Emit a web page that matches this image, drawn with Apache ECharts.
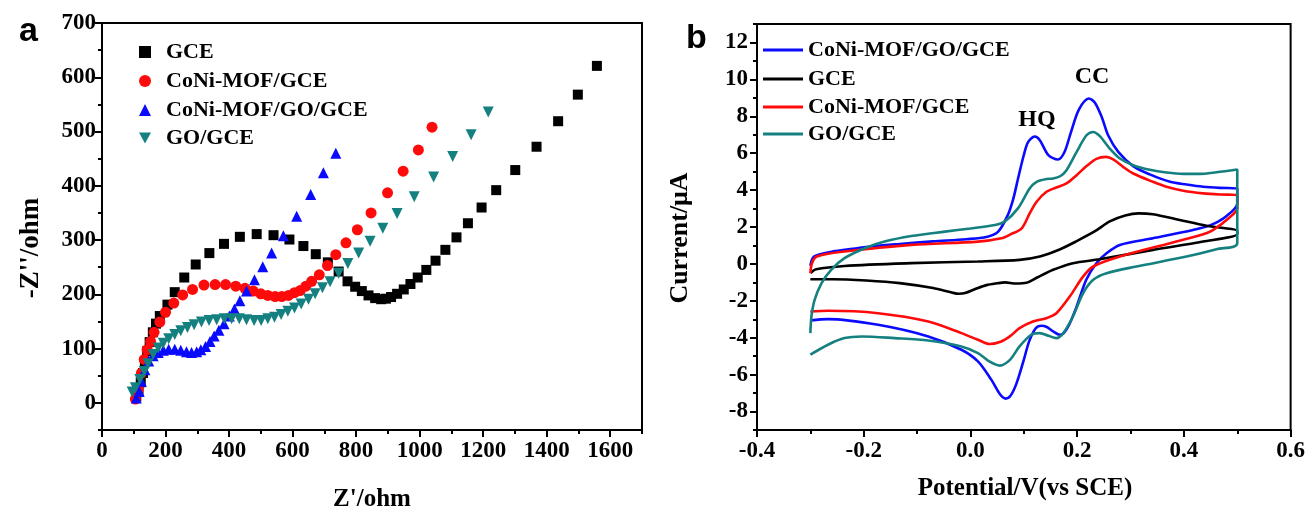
<!DOCTYPE html>
<html>
<head>
<meta charset="utf-8">
<script src="https://cdn.jsdelivr.net/npm/echarts@6/dist/echarts.min.js"></script>
<style>
html,body{margin:0;padding:0;background:#fff;}
#chart{width:1308px;height:515px;}
</style>
</head>
<body>
<div id="chart"></div>
<script>
// ---------- Panel a: Nyquist (EIS) data [Z', -Z''] ----------
const eisGCE = [[108,12],[115,22],[122,38],[129,55],[135,75],[142,95],[150,112],[160,130],[170,146],[182,160],[206,181],[229,204],[259,231],[295,255],[338,276],[384,293],[434,306],[487,311],[540,309],[590,301],[634,289],[673,274],[711,259],[745,242],[773,224],[797,214],[818,206],[839,198],[860,193],[879,191],[894,192],[910,195],[929,201],[950,209],[971,219],[994,231],[1021,245],[1050,262],[1081,282],[1116,305],[1152,331],[1195,360],[1241,392],[1301,429],[1368,472],[1436,519],[1498,568],[1558,621]];
const eisCoNiMOF = [[105,7],[114,25],[124,55],[133,80],[142,98],[153,113],[164,130],[182,149],[200,167],[226,184],[254,199],[285,209],[321,217],[356,218],[389,218],[421,215],[450,211],[476,206],[500,201],[522,198],[545,196],[566,196],[587,198],[606,203],[624,207],[642,215],[660,224],[684,236],[710,253],[736,273],[768,295],[804,319],[847,350],[899,387],[948,427],[996,466],[1039,508]];
const eisCoNiMOFGO = [[108,9],[117,21],[124,40],[135,61],[147,77],[161,87],[177,93],[193,97],[210,99],[229,99],[248,97],[266,94],[282,93],[298,94],[311,98],[326,104],[340,113],[353,123],[368,134],[384,146],[401,160],[417,173],[434,188],[455,206],[480,227],[506,251],[534,276],[571,308],[613,344],[657,384],[697,424],[736,460]];
const eisGO = [[95,20],[105,28],[119,43],[133,58],[145,72],[161,89],[177,101],[193,110],[210,118],[229,126],[248,133],[269,139],[290,144],[313,149],[337,152],[361,153],[385,155],[408,155],[432,155],[455,153],[479,152],[501,152],[522,155],[543,158],[564,163],[585,169],[606,175],[627,182],[650,191],[671,201],[694,212],[718,223],[745,239],[774,257],[808,276],[844,298],[884,322],[929,349],[983,380],[1044,416],[1104,454],[1162,494],[1216,536]];

// ---------- Panel b: cyclic voltammograms [E (V), I (uA)] ----------
const cvCoNiMOFGO = [[-0.300,-0.10],[-0.296,0.30],[-0.29,0.45],[-0.26,0.66],[-0.236,0.76],[-0.195,0.92],[-0.1325,1.08],[-0.07,1.22],[-0.0075,1.34],[0.03,1.46],[0.052,1.75],[0.07,2.65],[0.08,3.5],[0.089,4.6],[0.1,5.9],[0.108,6.6],[0.1205,6.9],[0.13,6.7],[0.146,5.9],[0.164,5.66],[0.176,6.05],[0.188,7.1],[0.203,8.35],[0.222,8.96],[0.233,8.75],[0.246,7.96],[0.258,6.97],[0.277,6.07],[0.305,5.3],[0.336,4.85],[0.374,4.45],[0.405,4.3],[0.436,4.18],[0.467,4.12],[0.5,4.09],
[0.5,3.28],[0.48,2.6],[0.45,2.1],[0.417,1.84],[0.342,1.39],[0.28,1.03],[0.255,0.58],[0.236,0.04],[0.217,-0.86],[0.199,-2.31],[0.185,-3.3],[0.175,-3.75],[0.167,-3.84],[0.155,-3.66],[0.143,-3.42],[0.133,-3.35],[0.122,-3.5],[0.11,-4.2],[0.099,-5.3],[0.086,-6.5],[0.075,-7.15],[0.066,-7.3],[0.055,-7.05],[0.039,-6.27],[0.014,-5.28],[-0.017,-4.65],[-0.079,-3.93],[-0.173,-3.3],[-0.267,-2.99],[-0.3,-3.06]];
const cvGCE = [[-0.3,-0.5],[-0.289,-0.29],[-0.236,-0.11],[-0.111,0.04],[0.014,0.13],[0.092,0.22],[0.13,0.40],[0.167,0.78],[0.2,1.25],[0.235,1.8],[0.261,2.3],[0.29,2.62],[0.315,2.74],[0.342,2.69],[0.392,2.38],[0.442,2.07],[0.5,1.78],
[0.5,1.62],[0.436,1.21],[0.342,0.76],[0.242,0.25],[0.192,0.04],[0.155,-0.32],[0.124,-0.75],[0.105,-1.02],[0.085,-1.06],[0.065,-1.0],[0.05,-1.05],[0.03,-1.15],[0.01,-1.35],[-0.01,-1.58],[-0.022,-1.62],[-0.035,-1.55],[-0.07,-1.31],[-0.1325,-1.04],[-0.195,-0.90],[-0.2575,-0.83],[-0.3,-0.83]];
const cvCoNiMOF = [[-0.3,-0.5],[-0.297,0.04],[-0.288,0.4],[-0.236,0.67],[-0.111,1.03],[0.014,1.21],[0.058,1.39],[0.075,1.6],[0.096,1.93],[0.111,2.74],[0.124,3.37],[0.1425,3.91],[0.161,4.14],[0.18,4.36],[0.199,4.81],[0.2175,5.30],[0.236,5.69],[0.254,5.8],[0.2675,5.66],[0.286,5.26],[0.305,4.90],[0.342,4.45],[0.3675,4.18],[0.399,3.96],[0.436,3.82],[0.467,3.76],[0.5,3.73],
[0.5,3.01],[0.485,2.5],[0.455,1.85],[0.43,1.55],[0.374,1.12],[0.28,0.4],[0.23,-0.14],[0.211,-0.69],[0.186,-1.77],[0.161,-2.67],[0.142,-2.94],[0.117,-3.12],[0.092,-3.48],[0.075,-3.9],[0.058,-4.2],[0.036,-4.34],[0.014,-4.11],[-0.017,-3.75],[-0.079,-3.12],[-0.173,-2.67],[-0.267,-2.54],[-0.3,-2.58]];
const cvGO = [[-0.3,-3.75],[-0.298,-2.85],[-0.292,-1.95],[-0.279,-1.04],[-0.261,-0.32],[-0.236,0.31],[-0.198,0.85],[-0.161,1.21],[-0.111,1.51],[-0.048,1.75],[0.0,1.92],[0.046,2.11],[0.064,2.29],[0.089,3.01],[0.111,4.09],[0.124,4.45],[0.1425,4.6],[0.155,4.63],[0.168,4.75],[0.18,5.08],[0.199,6.07],[0.2175,6.97],[0.23,7.15],[0.2425,6.92],[0.261,6.25],[0.28,5.71],[0.305,5.35],[0.336,5.1],[0.3675,4.95],[0.399,4.88],[0.43,4.88],[0.461,4.97],[0.5,5.12],
[0.5,1.12],[0.461,0.8],[0.405,0.4],[0.311,-0.14],[0.255,-0.5],[0.23,-0.86],[0.211,-1.59],[0.192,-2.85],[0.174,-3.75],[0.161,-4.02],[0.146,-3.89],[0.13,-3.75],[0.114,-3.84],[0.092,-4.47],[0.074,-5.2],[0.055,-5.51],[0.036,-5.3],[0.014,-4.83],[-0.017,-4.47],[-0.079,-4.15],[-0.142,-4.02],[-0.204,-3.93],[-0.236,-4.02],[-0.267,-4.38],[-0.3,-4.92]];

// ---------- Tick values ----------
const xTicksA = [0,200,400,600,800,1000,1200,1400,1600];
const xMinorA = [100,300,500,700,900,1100,1300,1500,1700];
const yTicksA = [0,100,200,300,400,500,600,700];
const yMinorA = [-50,50,150,250,350,450,550,650];
const xTicksB = [-0.4,-0.2,0.0,0.2,0.4,0.6];
const xMinorB = [-0.3,-0.1,0.1,0.3,0.5];
const yTicksB = [-8,-6,-4,-2,0,2,4,6,8,10,12];
const yMinorB = [-9,-7,-5,-3,-1,1,3,5,7,9,11,13];

const namesA = ['GCE','CoNi-MOF/GCE','CoNi-MOF/GO/GCE','GO/GCE'];
const namesB = ['CoNi-MOF/GO/GCE','GCE','CoNi-MOF/GCE','GO/GCE'];

const SERIF = "'Liberation Serif','Times New Roman',serif";
const SANS = "'Liberation Sans',Arial,sans-serif";
const BLK = '#000';
const C_BLUE = '#0a0aff', C_RED = '#ff0a0a', C_TEAL = '#158080', C_BLACK = '#000';

const labelStyle = {fontFamily: SERIF, fontWeight: 'bold', fontSize: 23, color: BLK};

function majorAxis(gi, min, max, ticks, margin, fmt) {
  return {
    gridIndex: gi, type: 'value', min: min, max: max,
    axisLine: {show: true, onZero: false, lineStyle: {color: BLK, width: 2}},
    axisTick: {show: true, customValues: ticks, length: 7, lineStyle: {color: BLK, width: 2}},
    axisLabel: Object.assign({show: true, customValues: ticks, margin: margin, formatter: fmt}, labelStyle),
    splitLine: {show: false}
  };
}
function minorAxis(gi, min, max, ticks, pos) {
  return {
    gridIndex: gi, type: 'value', min: min, max: max, position: pos,
    axisLine: {show: false, onZero: false},
    axisTick: {show: true, customValues: ticks, length: 4, lineStyle: {color: BLK, width: 2}},
    axisLabel: {show: false},
    splitLine: {show: false}
  };
}

const xA = majorAxis(0, 0, 1700, xTicksA, 10, v => String(v)); xA.position = 'bottom';
const xAm = minorAxis(0, 0, 1700, xMinorA, 'bottom');
const yA = majorAxis(0, -50, 700, yTicksA, 6, v => String(v)); yA.position = 'left';
const yAm = minorAxis(0, -50, 700, yMinorA, 'left');
const xB = majorAxis(1, -0.4, 0.6, xTicksB, 10, v => v.toFixed(1)); xB.position = 'bottom';
const xBm = minorAxis(1, -0.4, 0.6, xMinorB, 'bottom');
const yB = majorAxis(1, -9, 13, yTicksB, 9, v => String(v)); yB.position = 'left';
const yBm = minorAxis(1, -9, 13, yMinorB, 'left');

const downTri = 'path://M0,0 L10,0 L5,9 Z';

function scat(name, data, symbol, size, color) {
  return {name: name, type: 'scatter', xAxisIndex: 0, yAxisIndex: 0, data: data,
    symbol: symbol, symbolSize: size, itemStyle: {color: color, opacity: 1}, z: 3, silent: true};
}
function cv(name, data, color) {
  return {name: name, type: 'line', xAxisIndex: 2, yAxisIndex: 2, data: data,
    symbol: 'none', smooth: 0.3, lineStyle: {color: color, width: 2.6}, itemStyle: {color: color}, z: 3, silent: true};
}

const legTxt = {fontFamily: SERIF, fontWeight: 'bold', fontSize: 22, color: BLK, lineHeight: 22};
const legendA = namesA.map((n, i) => ({
  data: [n], left: 139, top: [52,81,110,138][i] - 11, orient: 'vertical',
  itemWidth: 12, itemHeight: 12, itemGap: 0, padding: 0,
  textStyle: Object.assign({padding: [0, 0, 0, 10]}, legTxt), selectedMode: false
}));
const legendB = namesB.map((n, i) => ({
  data: [{name: n, icon: 'rect'}], left: 763, top: [50,79,107,134][i] - 11, orient: 'vertical',
  itemWidth: 40, itemHeight: 3, itemGap: 0, padding: 0, textStyle: legTxt, selectedMode: false
}));

const chart = echarts.init(document.getElementById('chart'), null, {renderer: 'canvas'});
chart.setOption({
  backgroundColor: '#fff',
  animation: false,
  grid: [
    {left: 102, top: 23, width: 540, height: 407, show: true, borderColor: BLK, borderWidth: 2, backgroundColor: 'transparent'},
    {left: 757, top: 24, width: 536, height: 406, show: true, borderColor: BLK, borderWidth: 2, backgroundColor: 'transparent'}
  ],
  xAxis: [xA, xAm, xB, xBm],
  yAxis: [yA, yAm, yB, yBm],
  legend: legendA.concat(legendB),
  series: [
    scat('GCE', eisGCE, 'rect', 10, C_BLACK),
    scat('CoNi-MOF/GCE', eisCoNiMOF, 'circle', 11, C_RED),
    scat('CoNi-MOF/GO/GCE', eisCoNiMOFGO, 'triangle', 11, C_BLUE),
    scat('GO/GCE', eisGO, downTri, 11, C_TEAL),
    cv('CoNi-MOF/GO/GCE', cvCoNiMOFGO, C_BLUE),
    cv('GCE', cvGCE, C_BLACK),
    cv('CoNi-MOF/GCE', cvCoNiMOF, C_RED),
    cv('GO/GCE', cvGO, C_TEAL)
  ],
  graphic: [
    {type: 'text', left: 19, top: 15, style: {text: 'a', fontFamily: SANS, fontWeight: 'bold', fontSize: 34, fill: BLK}},
    {type: 'text', left: 686, top: 22, style: {text: 'b', fontFamily: SANS, fontWeight: 'bold', fontSize: 34, fill: BLK}},
    {type: 'text', x: 31, y: 248, rotation: Math.PI / 2, style: {text: "-Z''/ohm", fontFamily: SERIF, fontWeight: 'bold', fontSize: 27, fill: BLK, align: 'center', verticalAlign: 'middle'}},
    {type: 'text', x: 372, y: 500, style: {text: "Z'/ohm", fontFamily: SERIF, fontWeight: 'bold', fontSize: 25, fill: BLK, align: 'center', verticalAlign: 'middle'}},
    {type: 'text', x: 680, y: 238, rotation: Math.PI / 2, style: {text: 'Current/μA', fontFamily: SERIF, fontWeight: 'bold', fontSize: 26, fill: BLK, align: 'center', verticalAlign: 'middle'}},
    {type: 'text', x: 1025, y: 489, style: {text: 'Potential/V(vs SCE)', fontFamily: SERIF, fontWeight: 'bold', fontSize: 25, fill: BLK, align: 'center', verticalAlign: 'middle'}},
    {type: 'text', x: 1037, y: 120, style: {text: 'HQ', fontFamily: SERIF, fontWeight: 'bold', fontSize: 24, fill: BLK, align: 'center', verticalAlign: 'middle'}},
    {type: 'text', x: 1092, y: 77, style: {text: 'CC', fontFamily: SERIF, fontWeight: 'bold', fontSize: 24, fill: BLK, align: 'center', verticalAlign: 'middle'}}
  ]
});
</script>
</body>
</html>
